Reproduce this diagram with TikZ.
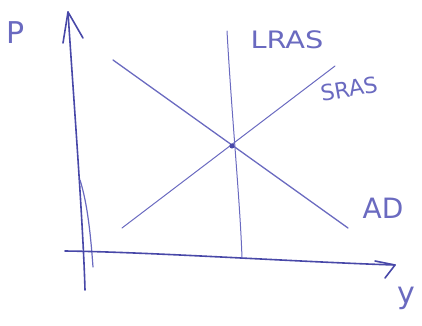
\documentclass[tikz,border=0pt]{standalone}
\usepackage{fontspec}
\setmainfont{DejaVu Sans}
\begin{document}
\begin{tikzpicture}[x=1pt,y=-1pt,
  axis/.style={draw=inkdark,line width=1.6pt,line cap=round,line join=round},
  curve/.style={draw=inklight,line width=1.3pt,line cap=round},
  lbl/.style={text=inklight,inner sep=0pt}]
\definecolor{inkdark}{HTML}{4848A8}
\definecolor{inklight}{HTML}{6A6AC0}
\useasboundingbox (0,0) rectangle (422,325);
% coordinates
\coordinate (ytip) at (68,12);
\coordinate (ybot) at (85,290);
\coordinate (xstart) at (65,251);
\coordinate (xtip) at (395,265);
\coordinate (adA) at (113,60);
\coordinate (adB) at (348,228);
\coordinate (srA) at (122,228);
\coordinate (srB) at (335,66);
\coordinate (lrA) at (227,31);
\coordinate (lrB) at (242,258);
% y axis
\draw[axis] (ytip) .. controls (73,90) and (83,220) .. (ybot);
\draw[axis,draw=inklight,line width=1.2pt] (80,180) .. controls (88,205) and (91,240) .. (93,267);
\draw[axis] (63,43) -- (ytip) -- (83,38);
% x axis
\draw[axis] (xstart) .. controls (150,252) and (300,262) .. (xtip);
\draw[axis] (375,261) -- (xtip) -- (385,278);
% curves
\draw[curve] (adA) -- (adB);
\draw[curve,line width=1pt] (srA) -- (srB);
\draw[curve,line width=1pt] (lrA) .. controls (232,120) and (240,200) .. (lrB);
\node[circle,fill=inkdark,inner sep=1.8pt] (eq) at (232,146) {};
% labels
\node[lbl,font=\fontsize{30}{30}\selectfont] (P) at (16,33) {P};
\node[lbl,font=\fontsize{24}{24}\selectfont,xscale=1.2] (lras) at (287,40) {LRAS};
\node[lbl,font=\fontsize{22}{22}\selectfont,rotate=10] (sras) at (349,89) {SRAS};
\node[lbl,font=\fontsize{28}{28}\selectfont] (ad) at (383,208) {AD};
\node[lbl,font=\fontsize{30}{30}\selectfont] (y) at (406,298) {y};
\end{tikzpicture}
\end{document}
